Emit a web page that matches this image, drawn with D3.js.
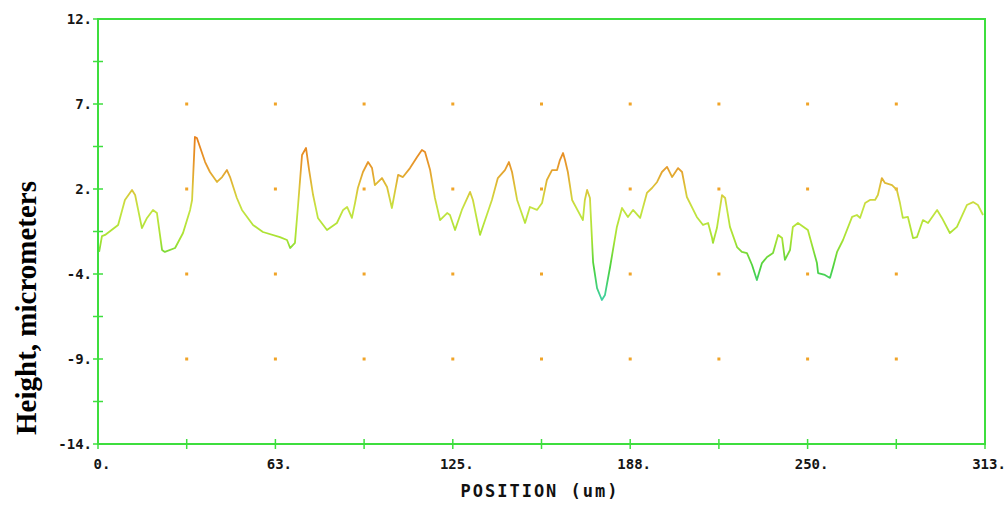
<!DOCTYPE html>
<html>
<head>
<meta charset="utf-8">
<script src="https://cdn.jsdelivr.net/npm/d3@7"></script>
<style>
  body { margin: 0; background: #fff; }
  .tick-label { font-family: "DejaVu Sans Mono", monospace; font-weight: bold; font-size: 14px; fill: #151515; }
  .axis-title { font-family: "DejaVu Sans Mono", monospace; font-weight: bold; font-size: 17px; letter-spacing: 2px; fill: #111; }
  .y-title { font-family: "Liberation Serif", "Times New Roman", serif; font-weight: bold; font-size: 29px; fill: #000; }
</style>
</head>
<body>
<div id="chart"></div>
<script>
// chart size
var svgWidth = 1008;
var svgHeight = 506;

var margin = { top: 19, right: 23, bottom: 62, left: 98 };
var chartWidth = svgWidth - margin.left - margin.right;
var chartHeight = svgHeight - margin.top - margin.bottom;

// axis ranges and tick labels
var xDomain = [0, 313];
var yDomain = [-14, 12];
var xTickValues = [0, 62.6, 125.2, 187.8, 250.4, 313];
var xTickLabels = ["0.", "63.", "125.", "188.", "250.", "313."];
var yTickValues = [12, 6.8, 1.6, -3.6, -8.8, -14];
var yTickLabels = ["12.", "7.", "2.", "-4.", "-9.", "-14."];

// profile, position (um) and height (um)
var position = [0.4, 1.4, 2.5, 7.1, 9.5, 12.0, 13.1, 15.5, 17.3, 19.4, 20.8, 22.6, 23.6, 27.2, 30.0, 32.5, 33.2, 34.2, 34.9, 37.8,
  39.5, 42.0, 43.8, 45.5, 46.6, 49.0, 50.8, 54.7, 58.2, 64.2, 66.7, 67.8, 69.5, 70.6, 72.0, 73.4, 74.5, 75.9, 77.6, 80.8,
  84.3, 86.5, 87.9, 89.6, 90.7, 91.7, 93.5, 95.3, 96.7, 97.7, 100.2, 102.0, 103.7, 105.9, 107.6, 110.1, 112.6, 114.3, 115.4, 117.2,
  118.9, 120.7, 123.2, 124.2, 126.0, 128.4, 131.3, 132.3, 134.8, 139.0, 141.1, 143.6, 145.0, 146.1, 147.9, 150.7, 152.4, 154.9, 156.7, 158.4,
  160.2, 162.0, 163.0, 164.1, 164.8, 165.8, 167.3, 171.1, 171.8, 172.6, 173.6, 174.7, 176.1, 177.8, 178.9, 180.7, 183.1, 184.9, 187.0, 188.8,
  191.3, 193.7, 195.5, 197.3, 199.0, 200.8, 202.6, 204.7, 206.1, 207.8, 211.3, 213.5, 215.3, 216.7, 217.0, 218.4, 220.2, 221.3, 223.0, 225.5,
  227.2, 229.0, 230.8, 232.5, 234.3, 236.1, 238.2, 240.0, 241.4, 242.4, 244.2, 245.2, 247.0, 250.5, 253.7, 254.1, 256.5, 258.3, 259.4, 260.8,
  262.9, 266.1, 267.8, 268.9, 270.7, 272.4, 274.2, 275.2, 276.6, 277.7, 280.2, 281.9, 283.0, 284.0, 285.8, 287.6, 289.0, 291.1, 292.9, 296.1,
  297.8, 300.6, 303.1, 306.6, 308.8, 310.5, 312.3];
var height = [-2.25, -1.28, -1.21, -0.60, 0.93, 1.54, 1.23, -0.79, -0.17, 0.32, 0.13, -2.13, -2.25, -2.01, -1.09, 0.32, 0.93, 4.78, 4.72, 3.25,
  2.64, 2.03, 2.33, 2.76, 2.33, 1.05, 0.32, -0.60, -1.03, -1.34, -1.52, -2.01, -1.70, 0.62, 3.68, 4.11, 2.76, 1.23, -0.17, -0.91,
  -0.48, 0.32, 0.50, -0.17, 0.74, 1.66, 2.64, 3.25, 2.88, 1.84, 2.27, 1.72, 0.44, 2.46, 2.33, 2.88, 3.56, 3.99, 3.86, 2.76,
  1.05, -0.30, 0.13, 0.01, -0.91, 0.32, 1.42, 0.93, -1.21, 0.93, 2.27, 2.76, 3.25, 2.64, 0.93, -0.48, 0.50, 0.32, 0.74, 2.15,
  2.76, 2.76, 3.37, 3.80, 3.37, 2.64, 0.93, -0.30, 0.93, 1.54, 1.05, -2.87, -4.46, -5.19, -4.88, -3.17, -0.72, 0.44, -0.11, 0.32,
  -0.17, 1.36, 1.66, 2.03, 2.64, 2.95, 2.33, 2.88, 2.64, 1.11, -0.11, -0.60, -0.48, -1.40, -1.70, -0.79, 1.23, 1.05, -0.72, -1.95,
  -2.25, -2.32, -3.05, -3.97, -2.93, -2.56, -2.32, -1.21, -1.40, -2.74, -2.13, -0.72, -0.48, -0.91, -2.93, -3.54, -3.66, -3.84, -3.17, -2.25,
  -1.52, -0.11, 0.01, -0.17, 0.74, 0.93, 0.93, 1.23, 2.27, 1.97, 1.84, 1.54, 0.74, -0.17, -0.11, -1.40, -1.34, -0.30, -0.48, 0.32,
  -0.17, -1.09, -0.72, 0.62, 0.80, 0.62, 0.01];

// height-to-colour stops for the trace
var colorHeights = [4.8, 3.0, 1.6, 0.4, -1.5, -3.2, -5.2];
var colorValues = ["#e8801a", "#e69a2c", "#dcc438", "#c4e442", "#a8e232", "#4ad23e", "#3ed0a4"];

var svg = d3.select("#chart")
  .append("svg")
  .attr("width", svgWidth)
  .attr("height", svgHeight);

var chartGroup = svg.append("g")
  .attr("transform", `translate(${margin.left}, ${margin.top})`);

var xScale = d3.scaleLinear().domain(xDomain).range([0, chartWidth]);
var yScale = d3.scaleLinear().domain(yDomain).range([chartHeight, 0]);

var green = "#3ede3e";

// grid dots at half x steps and inner y ticks
var dotX = d3.range(1, 10).map(i => xDomain[1] * i / 10);
var dotY = yTickValues.slice(1, -1);
dotY.forEach(function(yv) {
  chartGroup.selectAll(null)
    .data(dotX)
    .enter()
    .append("rect")
    .attr("x", d => xScale(d) - 1.5)
    .attr("y", yScale(yv) - 1.5)
    .attr("width", 3)
    .attr("height", 3)
    .attr("fill", "#f0a428");
});

// gradient by height
var defs = svg.append("defs");
var grad = defs.append("linearGradient")
  .attr("id", "heightGrad")
  .attr("gradientUnits", "userSpaceOnUse")
  .attr("x1", 0).attr("x2", 0)
  .attr("y1", yScale(colorHeights[0]))
  .attr("y2", yScale(colorHeights[colorHeights.length - 1]));
colorHeights.forEach(function(h, i) {
  var off = (yScale(h) - yScale(colorHeights[0])) /
    (yScale(colorHeights[colorHeights.length - 1]) - yScale(colorHeights[0]));
  grad.append("stop").attr("offset", off).attr("stop-color", colorValues[i]);
});

var profile = position.map((p, i) => ({ x: p, y: height[i] }));

var line = d3.line()
  .x(d => xScale(d.x))
  .y(d => yScale(d.y));

chartGroup.append("path")
  .datum(profile)
  .attr("d", line)
  .attr("fill", "none")
  .attr("stroke", "url(#heightGrad)")
  .attr("stroke-width", 1.8)
  .attr("stroke-linejoin", "round");

// frame
chartGroup.append("rect")
  .attr("x", 0).attr("y", 0)
  .attr("width", chartWidth)
  .attr("height", chartHeight)
  .attr("fill", "none")
  .attr("stroke", green)
  .attr("stroke-width", 2);

// x ticks (major + halfway)
var xTicksAll = d3.range(0, 11).map(i => xDomain[1] * i / 10);
chartGroup.selectAll(".xtick")
  .data(xTicksAll)
  .enter()
  .append("line")
  .attr("x1", d => xScale(d)).attr("x2", d => xScale(d))
  .attr("y1", chartHeight - 5).attr("y2", chartHeight + 5)
  .attr("stroke", green)
  .attr("stroke-width", 1.5);

// y ticks (major + halfway)
var yTicksAll = d3.range(0, 11).map(i => yDomain[1] - (yDomain[1] - yDomain[0]) * i / 10);
chartGroup.selectAll(".ytick")
  .data(yTicksAll)
  .enter()
  .append("line")
  .attr("x1", -5).attr("x2", 5)
  .attr("y1", d => yScale(d)).attr("y2", d => yScale(d))
  .attr("stroke", green)
  .attr("stroke-width", 1.5);

chartGroup.selectAll(".xlabel")
  .data(xTickValues)
  .enter()
  .append("text")
  .attr("class", "tick-label")
  .attr("x", d => xScale(d) + 4)
  .attr("y", chartHeight + 25)
  .attr("text-anchor", "middle")
  .text((d, i) => xTickLabels[i]);

chartGroup.selectAll(".ylabel")
  .data(yTickValues)
  .enter()
  .append("text")
  .attr("class", "tick-label")
  .attr("x", -6)
  .attr("y", d => yScale(d) + 5)
  .attr("text-anchor", "end")
  .text((d, i) => yTickLabels[i]);

// axis titles
svg.append("text")
  .attr("class", "axis-title")
  .attr("x", 540)
  .attr("y", 497)
  .attr("text-anchor", "middle")
  .text("POSITION (um)");

svg.append("text")
  .attr("class", "y-title")
  .attr("transform", "translate(36, 308) rotate(-90)")
  .attr("text-anchor", "middle")
  .text("Height, micrometers");
</script>
</body>
</html>
